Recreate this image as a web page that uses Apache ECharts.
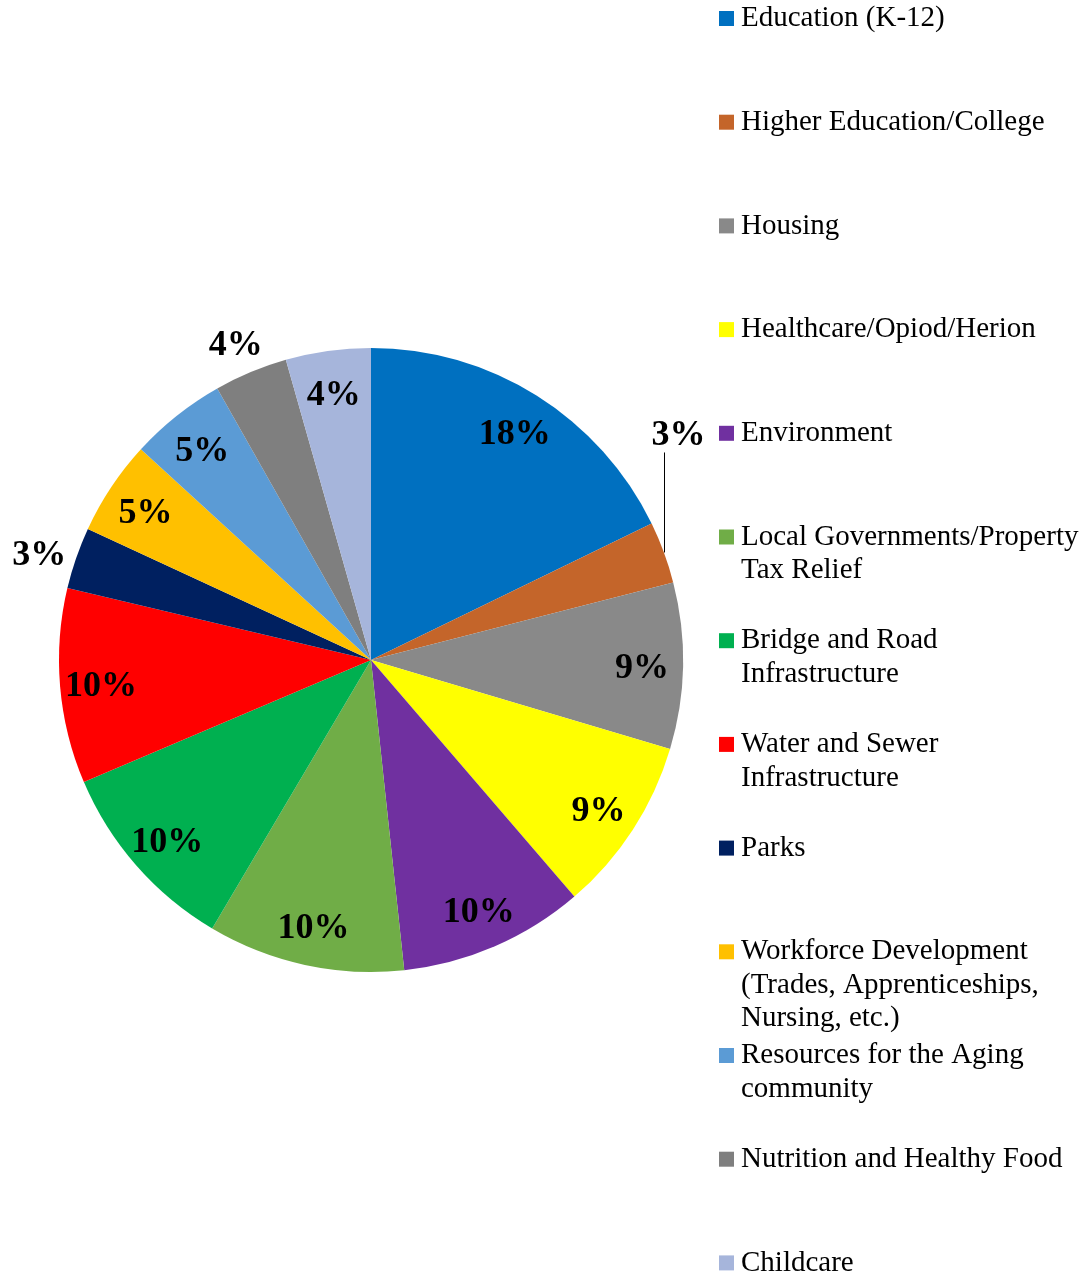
<!DOCTYPE html>
<html>
<head>
<meta charset="utf-8">
<title>Priorities</title>
<script src="https://cdn.jsdelivr.net/npm/echarts@6/dist/echarts.min.js"></script>
<style>
	html, body { margin: 0; padding: 0; background: #fff; }
	#chart { width: 1088px; height: 1276px; }
</style>
</head>
<body>
<div id="chart"></div>
<script>
// 分类（顺时针，从12点开始）
const categories = [
	'Education (K-12)',
	'Higher Education/College',
	'Housing',
	'Healthcare/Opiod/Herion',
	'Environment',
	'Local Governments/Property Tax Relief',
	'Bridge and Road Infrastructure',
	'Water and Sewer Infrastructure',
	'Parks',
	'Workforce Development (Trades, Apprenticeships, Nursing, etc.)',
	'Resources for the Aging community',
	'Nutrition and Healthy Food',
	'Childcare'
];
// 各分类占比（从图上量出来的，%）
const values = [17.8, 3.2, 8.6, 9.1, 9.6, 10.2, 10.1, 10.1, 3.2, 4.9, 5.0, 3.8, 4.4];
// 图例文字（按原图换行）
const legendText = [
	'Education (K-12)',
	'Higher Education/College',
	'Housing',
	'Healthcare/Opiod/Herion',
	'Environment',
	'Local Governments/Property\nTax Relief',
	'Bridge and Road\nInfrastructure',
	'Water and Sewer\nInfrastructure',
	'Parks',
	'Workforce Development\n(Trades, Apprenticeships,\nNursing, etc.)',
	'Resources for the Aging\ncommunity',
	'Nutrition and Healthy Food',
	'Childcare'
];
const colors = [
	'#0070C0', '#C4652A', '#898989', '#FFFF00', '#7030A0', '#70AD47', '#00B050',
	'#FF0000', '#002060', '#FFC000', '#5B9BD5', '#7F7F7F', '#A6B5DB'
];

// 标签放在饼外面的分类
const outsideNames = ['Parks', 'Nutrition and Healthy Food'];
// 带引导线的分类
const leaderName = 'Higher Education/College';

const page = {
	container: '#chart',
	font: "'Times New Roman', 'Liberation Serif', serif",
	center: [371, 660],
	radius: 312,

	init: function() {
		this.initChart();
	},

	// 百分比标签
	pctLabel: function(params) {
		return Math.round(params.percent) + '%';
	},

	// 每个分类一个图例，首行与色块对齐
	buildLegends: function() {
		const that = this,
			lh = 33.5;
		return categories.map(function(name, i) {
			const lines = legendText[i].split('\n').length;
			// 文字是以色块为中心上下居中的，前面补空行让第一行对齐色块
			const text = new Array(lines).join('\n') + legendText[i];
			return {
				data: [name],
				orient: 'vertical',
				left: 719,
				top: 18.5 + 103.7 * i - (2 * lines - 1) * lh / 2,
				padding: 0,
				itemGap: 0,
				itemWidth: 15,
				itemHeight: 15,
				icon: 'rect',
				selectedMode: false,
				formatter: function() {
					return text;
				},
				textStyle: {
					fontFamily: that.font,
					fontSize: 29,
					lineHeight: lh,
					color: '#000',
					padding: [0, 0, 0, 2]
				}
			};
		});
	},

	// 透明饼，只用来放标签；shift 为文字往下挪的距离
	labelRing: function(radius, shift, showFn) {
		const that = this;
		return {
			type: 'pie',
			center: this.center,
			radius: radius,
			startAngle: 90,
			clockwise: true,
			silent: true,
			legendHoverLink: false,
			avoidLabelOverlap: false,
			itemStyle: { color: 'rgba(0,0,0,0)' },
			emphasis: { disabled: true },
			label: {
				position: 'inside',
				formatter: function(params) {
					return '{s| }\n{v|' + that.pctLabel(params) + '}';
				},
				textBorderWidth: 0,
				rich: {
					s: { fontSize: 1, lineHeight: shift * 2 },
					v: {
						color: '#000',
						fontFamily: this.font,
						fontSize: 36,
						fontWeight: 'bold',
						lineHeight: 40
					}
				}
			},
			labelLine: { show: false },
			data: categories.map(function(name, i) {
				return { name: name, value: values[i], label: { show: showFn(name) } };
			})
		};
	},

	initChart: function() {
		const chart = echarts.init($el(this.container));

		const option = {
			animation: false,
			backgroundColor: '#fff',
			legend: this.buildLegends(),
			series: [{
				type: 'pie',
				center: this.center,
				radius: this.radius,
				startAngle: 90,
				clockwise: true,
				avoidLabelOverlap: false,
				emphasis: { disabled: true },
				label: {
					show: false,
					position: 'outside',
					formatter: this.pctLabel,
					color: '#000',
					fontFamily: this.font,
					fontSize: 36,
					fontWeight: 'bold'
				},
				labelLine: {
					show: false,
					length: 20,
					length2: 0,
					lineStyle: { color: '#000', width: 1 }
				},
				// 引导线竖直向上，标签在线的上方
				labelLayout: function(params) {
					if (categories[params.dataIndex] !== leaderName || !params.labelLinePoints) return {};
					const p = params.labelLinePoints[0],
						lx = Math.round(p[0]) + 0.5;
					return {
						x: lx + 14,
						y: p[1] - 99,
						align: 'center',
						verticalAlign: 'bottom',
						labelLinePoints: [[lx, p[1]], [lx, p[1] - 100]]
					};
				},
				data: categories.map(function(name, i) {
					const lead = name === leaderName;
					return {
						name: name,
						value: values[i],
						itemStyle: { color: colors[i] },
						label: { show: lead },
						labelLine: { show: lead }
					};
				})
			},
			this.labelRing([228, 308], 4, function(name) {
				return name !== leaderName && outsideNames.indexOf(name) < 0;
			}),
			this.labelRing([328, 368], 10, function(name) {
				return outsideNames.indexOf(name) >= 0;
			})]
		};

		chart.setOption(option);
	}
};

function $el(sel) {
	return document.querySelector(sel);
}

page.init();
</script>
</body>
</html>
